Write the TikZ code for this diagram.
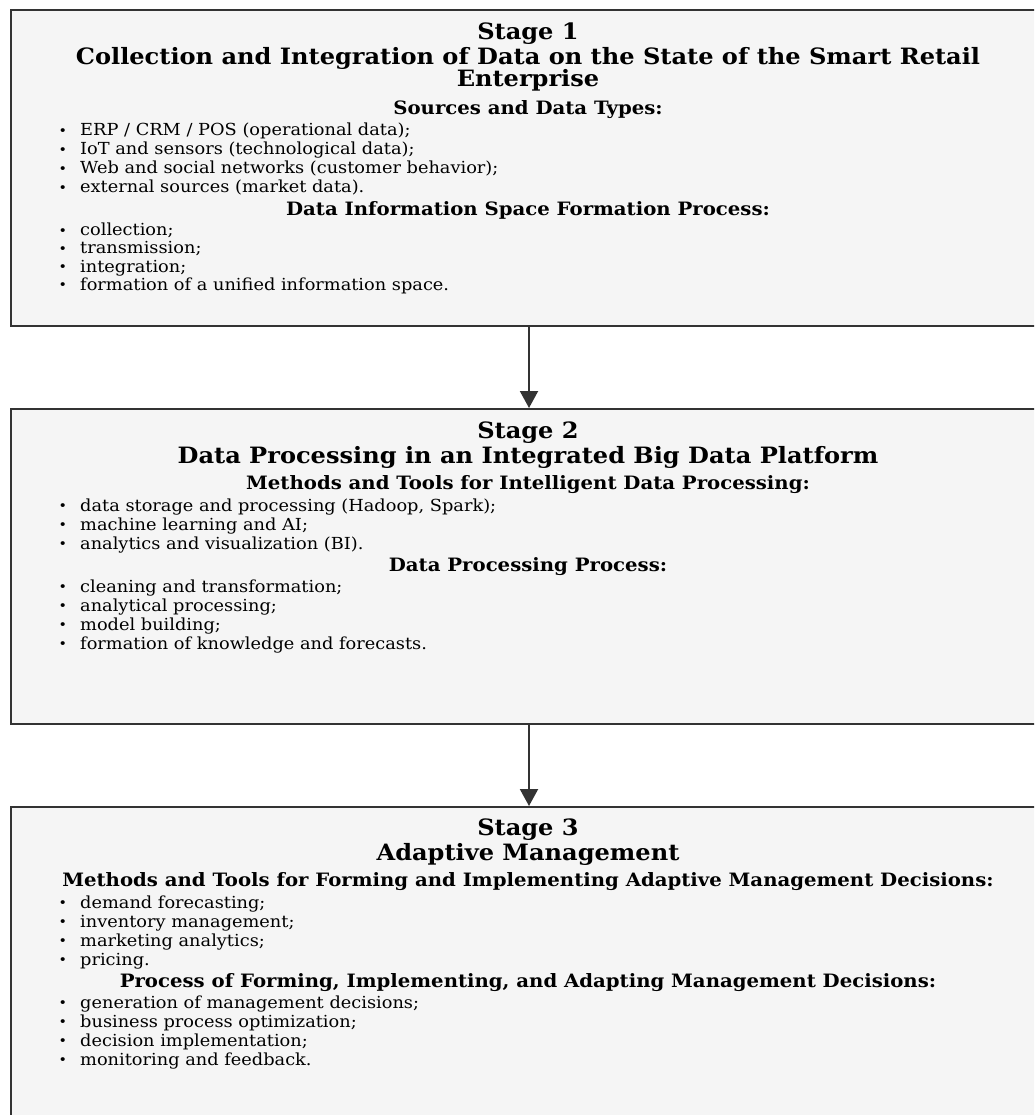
\documentclass[tikz,border=0pt]{standalone}
\usepackage{fontspec}
\setmainfont{DejaVu Serif}[FakeStretch=1.07]
\usetikzlibrary{arrows.meta}
\definecolor{boxfill}{HTML}{F5F5F5}
\definecolor{boxline}{HTML}{333333}
\tikzset{
  stagebox/.style={draw=boxline, fill=boxfill, line width=2pt, rectangle,
                   inner sep=0pt, anchor=north west, minimum width=1036pt},
  stagetitle/.style={font=\fontsize{22.5}{27}\selectfont\bfseries, anchor=base, inner sep=0pt},
  grouphead/.style={font=\fontsize{18.4}{22}\selectfont\bfseries, anchor=base, inner sep=0pt},
  listitem/.style={font=\fontsize{16.6}{20}\selectfont, anchor=base west, inner sep=0pt},
  flow/.style={draw=boxline, line width=2pt, -{Triangle[width=18pt,length=17pt]}}
}
\newcommand{\bul}[1]{\makebox[23pt][l]{\hspace{1.5pt}\raisebox{0.8pt}{\scalebox{0.8}{\textbullet}}}#1}
\begin{document}
\begin{tikzpicture}[x=1pt,y=-1pt]
\clip (0,0) rectangle (1034,1115);
\fill[white] (0,0) rectangle (1034,1115);
% stage boxes
\node[stagebox, minimum height=316pt] (s1) at (10,9) {};
\node[stagebox, minimum height=315pt] (s2) at (10,408) {};
\node[stagebox, minimum height=340pt] (s3) at (10,806) {};
\draw[flow] (s1.south) -- (s2.north);
\draw[flow] (s2.south) -- (s3.north);
% stage 1
\node[stagetitle] (s1num) at (528,40) {Stage 1};
\node[stagetitle] (s1name) at (528,65) {Collection and Integration of Data on the State of the Smart Retail};
\node[stagetitle] (s1name2) at (528,87) {Enterprise};
\node[grouphead] (s1srchead) at (528,115) {Sources and Data Types:};
\foreach \txt [count=\i] in {ERP / CRM / POS (operational data);,
    IoT and sensors (technological data);,
    Web and social networks (customer behavior);,
    external sources (market data).}
  \node[listitem] (s1src\i) at (57,{136+19*(\i-1)}) {\bul{\txt}};
\node[grouphead] (s1prochead) at (528,215) {Data Information Space Formation Process:};
\foreach \txt [count=\i] in {collection;, transmission;, integration;,
    formation of a unified information space.}
  \node[listitem] (s1proc\i) at (57,{236+18*(\i-1)}) {\bul{\txt}};
% stage 2
\node[stagetitle] (s2num) at (528,438) {Stage 2};
\node[stagetitle] (s2name) at (528,463) {Data Processing in an Integrated Big Data Platform};
\node[grouphead] (s2toolhead) at (528,489) {Methods and Tools for Intelligent Data Processing:};
\foreach \txt [count=\i] in {{data storage and processing (Hadoop, Spark);},
    machine learning and AI;, analytics and visualization (BI).}
  \node[listitem] (s2tool\i) at (57,{511+19.2*(\i-1)}) {\bul{\txt}};
\node[grouphead] (s2prochead) at (528,571) {Data Processing Process:};
\foreach \txt [count=\i] in {cleaning and transformation;, analytical processing;,
    model building;, formation of knowledge and forecasts.}
  \node[listitem] (s2proc\i) at (57,{592+19.2*(\i-1)}) {\bul{\txt}};
% stage 3
\node[stagetitle] (s3num) at (528,835) {Stage 3};
\node[stagetitle] (s3name) at (528,860) {Adaptive Management};
\node[grouphead] (s3toolhead) at (528,886) {Methods and Tools for Forming and Implementing Adaptive Management Decisions:};
\foreach \txt [count=\i] in {demand forecasting;, inventory management;,
    marketing analytics;, pricing.}
  \node[listitem] (s3tool\i) at (57,{908+19.2*(\i-1)}) {\bul{\txt}};
\node[grouphead] (s3prochead) at (528,987) {Process of Forming, Implementing, and Adapting Management Decisions:};
\foreach \txt [count=\i] in {generation of management decisions;, business process optimization;,
    decision implementation;, monitoring and feedback.}
  \node[listitem] (s3proc\i) at (57,{1008+19.2*(\i-1)}) {\bul{\txt}};
\end{tikzpicture}
\end{document}
